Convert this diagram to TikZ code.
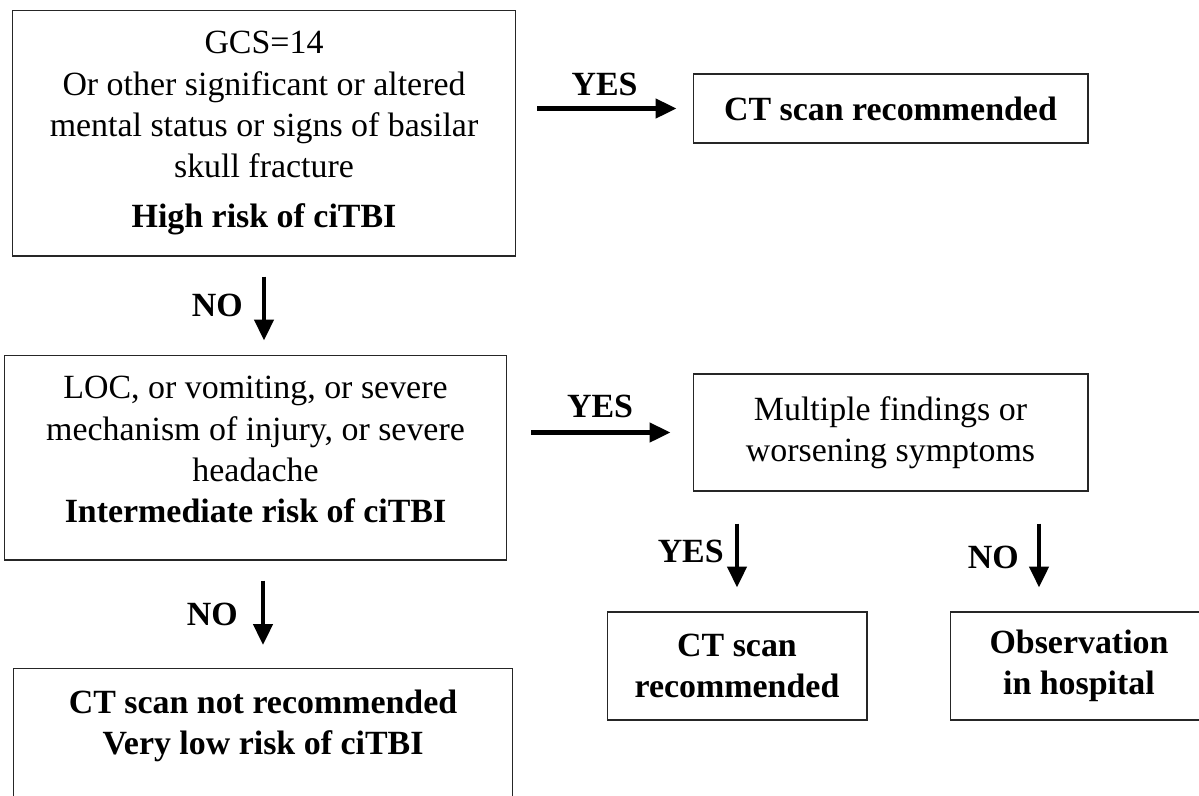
\documentclass[tikz,border=0pt]{standalone}
\usepackage{fontspec}
\setmainfont{Liberation Serif}
\usetikzlibrary{arrows.meta}
\begin{document}
\begin{tikzpicture}[x=0.02cm,y=-0.02cm,>={Triangle[length=0.42cm,width=0.38cm]},
    font=\fontsize{19.3}{23.6}\selectfont,
    box/.style={draw=black!85,line width=0.6pt,align=center,inner sep=0pt},
    arr/.style={->,line width=2.6pt},
    lab/.style={font=\fontsize{19.3}{23.6}\selectfont\bfseries,inner sep=0pt}]
    \useasboundingbox (0,0) rectangle (1199,795);
    \clip (0,0) rectangle (1199,795);
    % boxes
    \node[box,minimum width=10.08cm,minimum height=4.92cm] (high) at (264,133)
        {GCS=14\\Or other significant or altered\\mental status or signs of basilar\\skull fracture\\[0.16cm]\textbf{High risk of ciTBI}};
    \node[box,minimum width=7.9cm,minimum height=1.38cm] (ct) at (890.5,108.5) {\textbf{CT scan recommended}};
    \node[box,minimum width=10.06cm,minimum height=4.1cm] (mid) at (255.5,457.5)
        {LOC, or vomiting, or severe\\mechanism of injury, or severe\\headache\\\textbf{Intermediate risk of ciTBI}\rule[-0.32cm]{0pt}{0.32cm}};
    \node[box,minimum width=7.9cm,minimum height=2.34cm] (multi) at (890.5,432.5) {Multiple findings or\\worsening symptoms};
    \node[box,minimum width=5.2cm,minimum height=2.16cm] (ctb) at (737,666) {\textbf{CT scan}\\\textbf{recommended}};
    \node[box,minimum width=5.16cm,minimum height=2.16cm] (obs) at (1079,666) {\textbf{Observation}\\\textbf{in hospital}};
    \node[box,anchor=north,minimum width=10cm,inner ysep=0.42cm] (low) at (263,668)
        {\textbf{CT scan not recommended}\\\textbf{Very low risk of ciTBI}\\\rule{0pt}{1.5cm}};
    \coordinate (obsin) at ([xshift=-0.8cm]obs.north);
    % arrows
    \draw[arr,shorten <=0.42cm,shorten >=0.32cm] (high.east |- ct.west) -- node[lab,above=0.2cm] {YES} (ct.west);
    \draw[arr,shorten <=0.4cm,shorten >=0.28cm] (high.south) -- node[lab,left=0.38cm] {NO} (high.south |- mid.north);
    \draw[arr,shorten <=0.48cm,shorten >=0.44cm] (mid.east |- multi.west) -- node[lab,above=0.24cm] {YES} (multi.west);
    \draw[arr,shorten <=0.4cm,shorten >=0.46cm] (low.north |- mid.south) -- node[lab,left=0.46cm] {NO} (low.north);
    \draw[arr,shorten <=0.64cm,shorten >=0.48cm] (ctb.north |- multi.south) -- node[lab,left=0.22cm] {YES} (ctb.north);
    \draw[arr,shorten <=0.64cm,shorten >=0.48cm] (obsin |- multi.south) -- node[lab,left=0.36cm,yshift=-0.12cm] {NO} (obsin);
\end{tikzpicture}
\end{document}
